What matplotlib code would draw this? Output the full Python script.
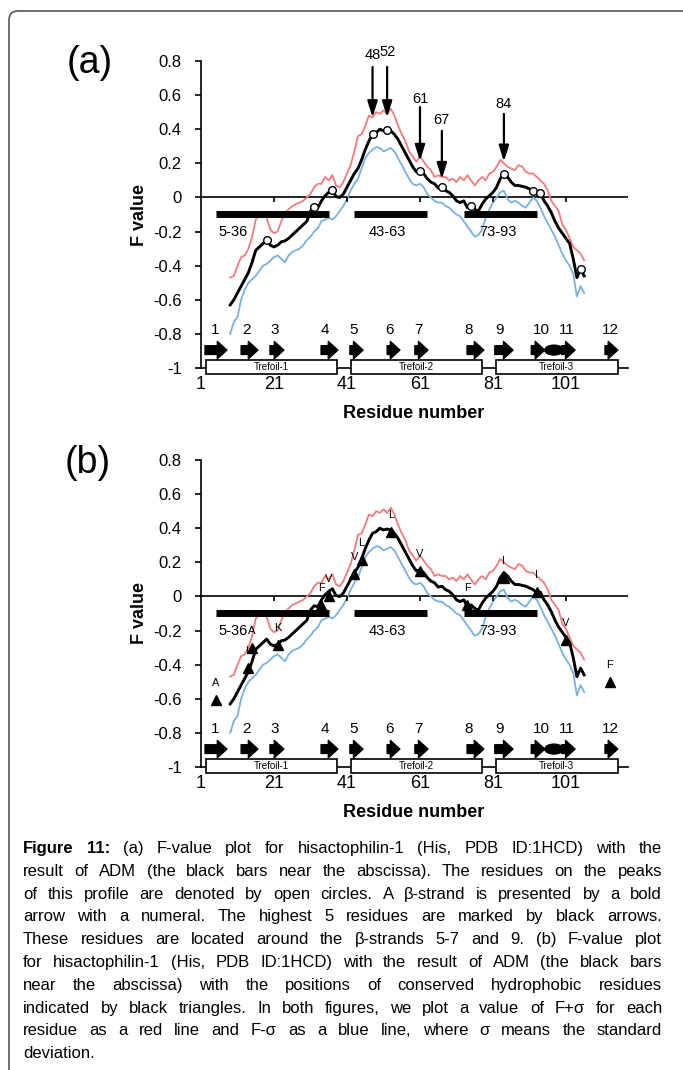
import matplotlib
matplotlib.use("Agg")
import matplotlib.pyplot as plt
from matplotlib import patches
from matplotlib import font_manager
from matplotlib.transforms import IdentityTransform

plt.rcParams["font.family"] = "Liberation Sans"

# F-value profile (residues 9..106)
residues = list(range(9, 107))
f_value = [-0.63, -0.60, -0.56, -0.52, -0.48, -0.44, -0.38, -0.31, -0.29, -0.27,
           -0.25, -0.28, -0.29, -0.28, -0.26, -0.255, -0.24, -0.22, -0.20, -0.18,
           -0.16, -0.14, -0.08, -0.055, -0.06, -0.02, 0.01, 0.03, 0.045, 0.005,
           0.0, 0.02, 0.06, 0.10, 0.14, 0.17, 0.22, 0.28, 0.33, 0.37,
           0.38, 0.40, 0.39, 0.395, 0.39, 0.37, 0.34, 0.30, 0.26, 0.22,
           0.18, 0.15, 0.155, 0.14, 0.11, 0.09, 0.08, 0.055, 0.06, 0.04,
           0.03, 0.01, -0.02, -0.03, -0.02, -0.06, -0.05, -0.07, -0.08, -0.04,
           -0.01, 0.01, 0.03, 0.06, 0.11, 0.14, 0.12, 0.09, 0.07, 0.07,
           0.065, 0.06, 0.05, 0.04, 0.02, 0.025, -0.02, -0.05, -0.09, -0.14,
           -0.18, -0.21, -0.24, -0.27, -0.36, -0.47, -0.42, -0.46]
f_plus = [-0.47, -0.46, -0.40, -0.35, -0.34, -0.30, -0.23, -0.13, -0.105, -0.10,
          -0.12, -0.19, -0.21, -0.20, -0.14, -0.09, -0.07, -0.05, -0.04, -0.03,
          -0.02, 0.0, 0.02, 0.06, 0.08, 0.08, 0.12, 0.10, 0.13, 0.07,
          0.06, 0.09, 0.14, 0.19, 0.27, 0.36, 0.37, 0.42, 0.48, 0.47,
          0.50, 0.49, 0.51, 0.49, 0.52, 0.48, 0.42, 0.37, 0.33, 0.27,
          0.24, 0.21, 0.24, 0.21, 0.18, 0.16, 0.12, 0.13, 0.12, 0.12,
          0.10, 0.11, 0.09, 0.12, 0.10, 0.13, 0.10, 0.07, 0.10, 0.12,
          0.10, 0.14, 0.15, 0.18, 0.22, 0.20, 0.18, 0.17, 0.16, 0.19,
          0.18, 0.15, 0.14, 0.14, 0.12, 0.10, 0.08, 0.04, -0.02, -0.05,
          -0.08, -0.16, -0.19, -0.24, -0.29, -0.31, -0.33, -0.37]
f_minus = [-0.80, -0.73, -0.70, -0.60, -0.54, -0.50, -0.48, -0.46, -0.43, -0.40,
           -0.39, -0.37, -0.35, -0.34, -0.36, -0.38, -0.34, -0.32, -0.31, -0.30,
           -0.28, -0.25, -0.23, -0.20, -0.18, -0.14, -0.13, -0.12, -0.13, -0.11,
           -0.08, -0.05, -0.01, 0.04, 0.08, 0.11, 0.17, 0.23, 0.26, 0.28,
           0.295, 0.29, 0.27, 0.28, 0.29, 0.27, 0.23, 0.19, 0.15, 0.11,
           0.08, 0.07, 0.08, 0.06, 0.02, 0.00, -0.02, -0.03, -0.03, -0.05,
           -0.06, -0.08, -0.10, -0.11, -0.14, -0.17, -0.20, -0.23, -0.22, -0.19,
           -0.12, -0.07, -0.03, 0.00, 0.03, 0.04, -0.01, -0.03, -0.02, -0.03,
           -0.05, -0.06, -0.03, 0.00, -0.02, -0.06, -0.11, -0.15, -0.19, -0.23,
           -0.28, -0.33, -0.37, -0.40, -0.45, -0.58, -0.52, -0.56]

# open circles on peaks (panel a)
peak_res = [19, 32, 37, 48, 52, 61, 67, 75, 84, 92, 94, 105]
# highest residues, black arrows (panel a)
top_res = [48, 52, 61, 67, 84]
top_tip = [0.47, 0.47, 0.214, 0.108, 0.21]
top_tail = [0.765, 0.765, 0.53, 0.39, 0.49]
top_label_y = [0.835, 0.855, 0.58, 0.455, 0.55]

# conserved hydrophobic residues (panel b)
tri_res = [5, 14, 15, 22, 34, 36, 43, 45, 53, 61, 74, 84, 93, 101, 113]
tri_f = [-0.605, -0.42, -0.30, -0.285, -0.05, 0.005, 0.13, 0.215, 0.38, 0.15,
         -0.05, 0.11, 0.025, -0.255, -0.5]
tri_aa = ["A", "L", "A", "K", "F", "V", "V", "L", "L", "V", "F", "I", "I", "V", "F"]

# ADM bars
adm_start = [5, 43, 73]
adm_end = [36, 63, 93]
adm_labels = ["5-36", "43-63", "73-93"]
adm_label_x = [9.8, 52, 82.4]

# beta strands
strand_start = [2.1, 12, 19.9, 33.9, 41.8, 52, 59.6, 73.9, 81.5, 91.5, 99.8, 111.7]
strand_end = [8.1, 16.6, 23.7, 38.5, 45.4, 55.5, 63.2, 78.5, 86.5, 95.2, 103.5, 115.2]
strand_label_x = [4.8, 13.6, 21.1, 35, 42.8, 52.6, 60.5, 74.3, 82.8, 94.4, 101.3, 113.1]

trefoil_start = [2.4, 42, 81.8]
trefoil_end = [38.3, 78, 115.2]
trefoil_names = ["Trefoil-1", "Trefoil-2", "Trefoil-3"]

xtick_vals = [1, 21, 41, 61, 81, 101]
ytick_vals = [-1, -0.8, -0.6, -0.4, -0.2, 0, 0.2, 0.4, 0.6, 0.8]
ytick_labels = ["-1", "-0.8", "-0.6", "-0.4", "-0.2", "0", "0.2", "0.4", "0.6", "0.8"]

W, H = 683, 1070
fig = plt.figure(figsize=(W / 100, H / 100), dpi=100)


def draw_panel(ax):
    ax.set_xlim(1, 118)
    ax.set_ylim(-1, 0.8)
    ax.plot(residues, f_plus, color="#f27b7b", lw=1.3, zorder=2)
    ax.plot(residues, f_minus, color="#78b0e0", lw=1.3, zorder=2)
    ax.plot(residues, f_value, color="black", lw=2.1, zorder=3)
    for s in ["top", "right", "bottom"]:
        ax.spines[s].set_visible(False)
    ax.spines["left"].set_linewidth(1.2)
    ax.axhline(0, color="black", lw=1.2, zorder=1)
    ax.axhline(-1, color="black", lw=1.2, zorder=1, clip_on=False)
    ax.vlines(xtick_vals[1:], -0.028, 0, color="black", lw=1.2)
    ax.set_yticks(ytick_vals)
    ax.set_yticklabels(ytick_labels, fontsize=12)
    ax.tick_params(axis="y", direction="out", length=4, width=1.2, pad=10)
    ax.set_xticks(xtick_vals)
    ax.set_xticklabels([str(v) for v in xtick_vals], fontsize=13)
    ax.tick_params(axis="x", length=0, pad=6)
    ax.text(-0.145, 0.5, "F value", transform=ax.transAxes, rotation=90,
            fontsize=13, fontweight="bold", ha="center", va="center")
    ax.text(0.497, -0.147, "Residue number", transform=ax.transAxes,
            fontsize=13, fontweight="bold", ha="center", va="center")

    for a, b in zip(adm_start, adm_end):
        ax.plot([a, b], [-0.095, -0.095], color="black", lw=5,
                solid_capstyle="butt", zorder=4)
    for lab, x in zip(adm_labels, adm_label_x):
        ax.text(x, -0.2, lab, fontsize=10.5, ha="center", va="center")

    for i, (a, b) in enumerate(zip(strand_start, strand_end)):
        ax.annotate("", xy=(b, -0.895), xytext=(a, -0.895),
                    arrowprops=dict(arrowstyle="simple,head_length=0.55,head_width=1.0,tail_width=0.5",
                                    fc="black", ec="black", shrinkA=0, shrinkB=0,
                                    mutation_scale=12.5))
        ax.text(strand_label_x[i], -0.78, str(i + 1), fontsize=11,
                ha="center", va="center")
    ax.add_patch(patches.Ellipse((97.7, -0.895), 5, 0.058, fc="black", ec="black"))

    for a, b, name in zip(trefoil_start, trefoil_end, trefoil_names):
        ax.add_patch(patches.Rectangle((a, -1.035), b - a, 0.08, fc="white",
                                       ec="black", lw=1.2, clip_on=False, zorder=5))
        ax.text((a + b) / 2, -0.995, name, fontsize=7, ha="center", va="center",
                zorder=6)


ax_a = fig.add_axes([201 / W, 1 - 368 / H, 427 / W, 307 / H])
draw_panel(ax_a)
peak_f = [f_value[r - residues[0]] for r in peak_res]
ax_a.plot(peak_res, peak_f, "o", ms=5.5, mfc="white", mec="black", mew=1, zorder=6)
for r, tip, tail, ly in zip(top_res, top_tip, top_tail, top_label_y):
    ax_a.annotate("", xy=(r, tip), xytext=(r, tail),
                  arrowprops=dict(arrowstyle="-|>,head_length=0.8,head_width=0.25",
                                  fc="black", ec="black", lw=1.6, shrinkA=0,
                                  shrinkB=0, mutation_scale=12),
                  annotation_clip=False)
    ax_a.text(r, ly, str(r), fontsize=10.5, ha="center", va="center", clip_on=False)

ax_b = fig.add_axes([201 / W, 1 - 767 / H, 427 / W, 307 / H])
draw_panel(ax_b)
ax_b.plot(tri_res, tri_f, "^", ms=7, color="black", zorder=6, clip_on=False)
for r, f, aa in zip(tri_res, tri_f, tri_aa):
    ax_b.text(r, f + 0.1, aa, fontsize=8, ha="center", va="center")

fig.text(90 / W, 1 - 63 / H, "(a)", fontsize=27, ha="center", va="center")
fig.text(88 / W, 1 - 463 / H, "(b)", fontsize=27, ha="center", va="center")

# page frame
frame = patches.FancyBboxPatch((9, -30), 720, H - 11 + 30,
                               boxstyle="round,pad=0,rounding_size=9",
                               transform=IdentityTransform(), fill=False,
                               ec="#555555", lw=1.2)
fig.add_artist(frame)

# caption, justified
caption = [
    "Figure 11: (a) F-value plot for hisactophilin-1 (His, PDB ID:1HCD) with the",
    "result of ADM (the black bars near the abscissa). The residues on the peaks",
    "of this profile are denoted by open circles. A \u03b2-strand is presented by a bold",
    "arrow with a numeral. The highest 5 residues are marked by black arrows.",
    "These residues are located around the \u03b2-strands 5-7 and 9. (b) F-value plot",
    "for hisactophilin-1 (His, PDB ID:1HCD) with the result of ADM (the black bars",
    "near the abscissa) with the positions of conserved hydrophobic residues",
    "indicated by black triangles. In both figures, we plot a value of F+\u03c3 for each",
    "residue as a red line and F-\u03c3 as a blue line, where \u03c3 means the standard",
    "deviation.",
]
cap_font = "Liberation Sans"
try:
    font_manager.findfont("Liberation Sans Narrow", fallback_to_default=False)
    cap_font = "Liberation Sans Narrow"
    cap_size = 13.5
except Exception:
    cap_size = 12
renderer = fig.canvas.get_renderer()


def text_w(s, weight, size):
    t = fig.text(0, 0, s, fontsize=size, fontweight=weight, family=cap_font)
    w = t.get_window_extent(renderer).width
    t.remove()
    return w


left, right = 23, 662
while True:
    sp = text_w("a a", "normal", cap_size) - text_w("aa", "normal", cap_size)
    widest = 0
    for k, line in enumerate(caption):
        words = line.split(" ")
        ws = [text_w(w, "bold" if (k == 0 and j < 2) else "normal", cap_size)
              for j, w in enumerate(words)]
        widest = max(widest, sum(ws) + sp * (len(ws) - 1))
    if widest <= right - left or cap_size < 9:
        break
    cap_size -= 0.25

base0, step = 853, 22.8
for k, line in enumerate(caption):
    words = line.split(" ")
    weights = ["bold" if (k == 0 and j < 2) else "normal" for j in range(len(words))]
    ws = [text_w(w, wt, cap_size) for w, wt in zip(words, weights)]
    if k < len(caption) - 1 and len(words) > 1:
        gap = (right - left - sum(ws)) / (len(words) - 1)
    else:
        gap = sp
    x = left
    y = base0 + k * step
    for w, wt, wd in zip(words, weights, ws):
        fig.text(x / W, 1 - y / H, w, fontsize=cap_size, fontweight=wt,
                 family=cap_font, ha="left", va="baseline")
        x += wd + gap

fig.savefig("out.png", dpi=100)
